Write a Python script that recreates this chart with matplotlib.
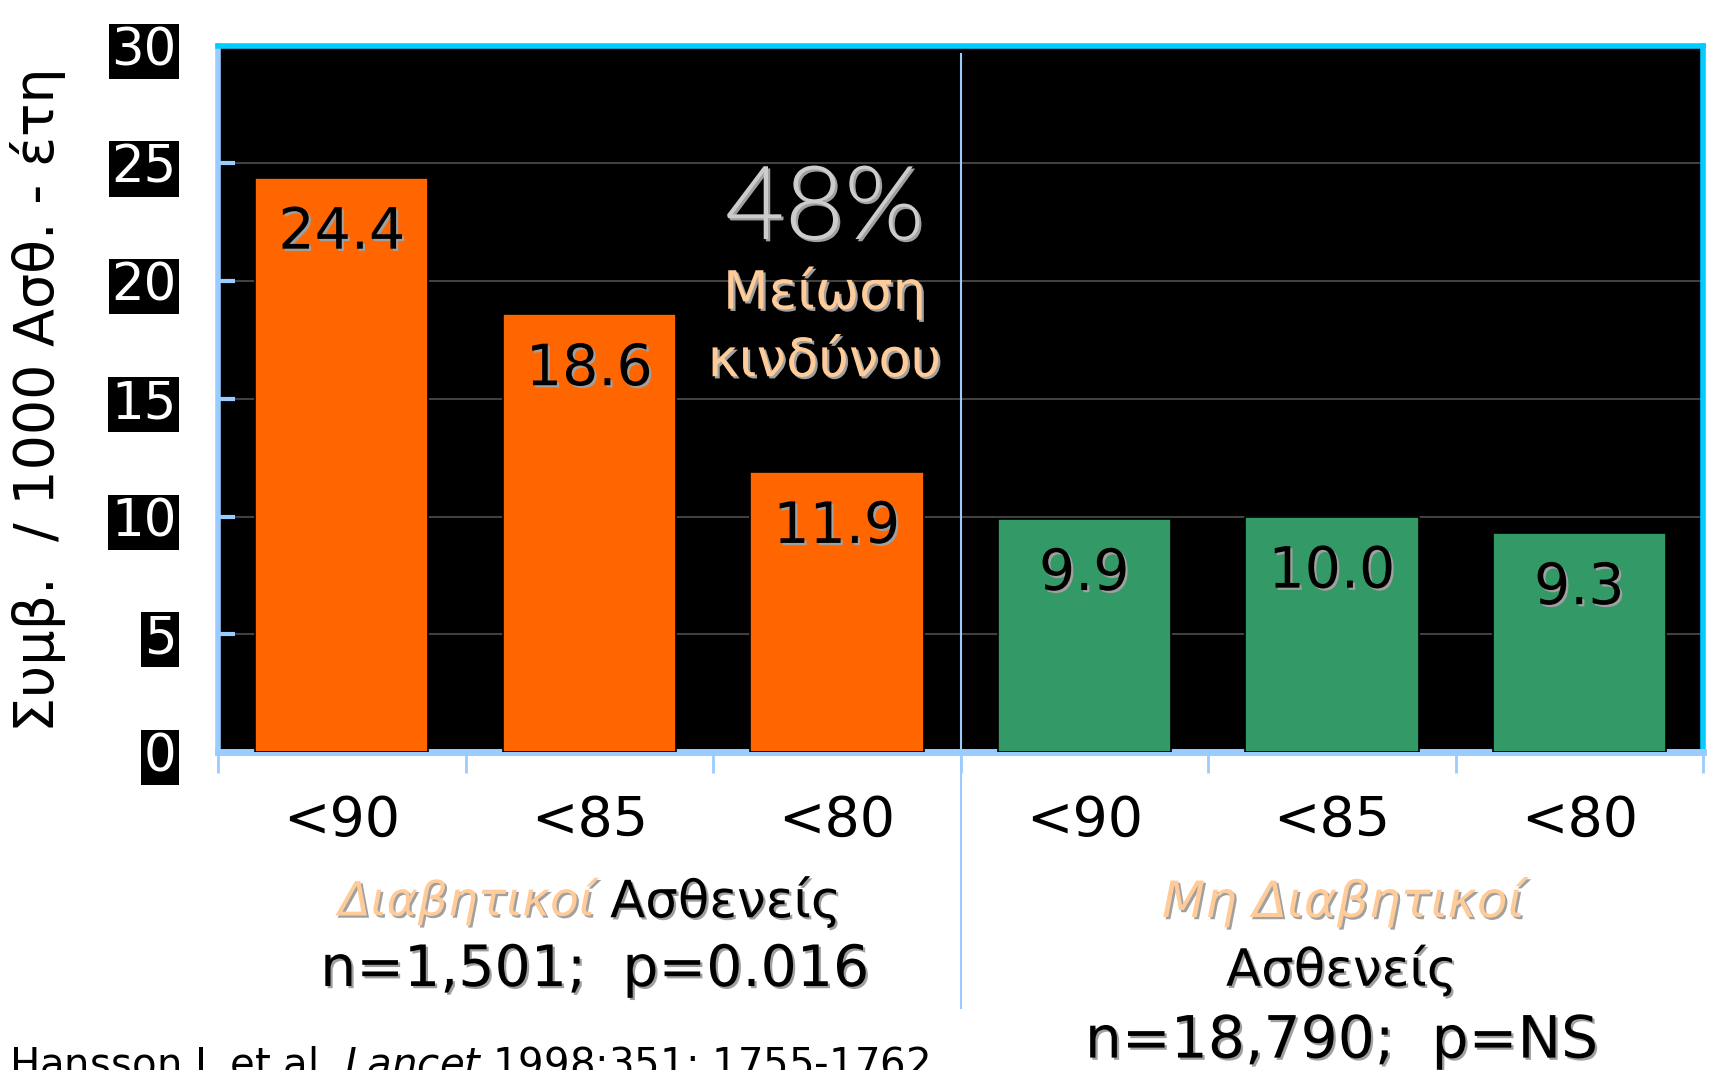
import matplotlib
matplotlib.use("Agg")
import matplotlib.pyplot as plt
import matplotlib.patheffects as pe
from matplotlib.transforms import blended_transform_factory

plt.rcParams['font.family'] = ['DejaVu Sans']

# event rates per 1000 patient-years by diastolic target
categories = ['<90', '<85', '<80', '<90', '<85', '<80']
diabetic = [24.4, 18.6, 11.9]
non_diabetic = [9.9, 10.0, 9.3]
values = diabetic + non_diabetic
value_labels = ['24.4', '18.6', '11.9', '9.9', '10.0', '9.3']
yticks = [0, 5, 10, 15, 20, 25, 30]

ORANGE = '#ff6600'
GREEN = '#339966'
PEACH = '#ffcc99'
LIGHTBLUE = '#99ccff'
CYAN = '#00ccff'

shadow = [pe.withSimplePatchShadow(offset=(1.6, -1.6), shadow_rgbFace='#a0a0a0', alpha=1.0)]

fig = plt.figure(figsize=(17.09, 10.70), dpi=100)
ax = fig.add_axes([0.1276, 0.2972, 0.869, 0.660])
ax.set_facecolor('black')

xs = [i + 0.5 for i in range(len(values))]
colors = [ORANGE] * len(diabetic) + [GREEN] * len(non_diabetic)
ax.bar(xs, values, width=0.70, color=colors, edgecolor='black', linewidth=1.2, zorder=3)

for x, v, lab in zip(xs, values, value_labels):
    ax.annotate(lab, xy=(x, v), xytext=(0, -40), textcoords='offset points',
                ha='center', va='center', fontsize=41, color='black',
                path_effects=shadow, zorder=4)

ax.set_xlim(0, 6)
ax.set_ylim(0, 30)

# gridlines
ax.set_yticks(yticks)
ax.yaxis.grid(True, color='#404040', linewidth=1.5, zorder=1)
ax.set_axisbelow(True)
ax.tick_params(axis='y', direction='in', length=12, width=3, color=LIGHTBLUE,
               pad=30, labelsize=37, labelcolor='white')
for t in ax.get_yticklabels():
    t.set_bbox(dict(facecolor='black', edgecolor='none', pad=2))

# x ticks at group boundaries, labels at bar centres
ax.set_xticks(range(7))
ax.set_xticklabels([])
ax.tick_params(axis='x', which='major', direction='out', length=15, width=2, color=LIGHTBLUE)
ax.set_xticks(xs, minor=True)
ax.set_xticklabels(categories, minor=True)
ax.tick_params(axis='x', which='minor', length=0, pad=30, labelsize=40)

for side, col, lw in [('left', LIGHTBLUE, 4), ('bottom', LIGHTBLUE, 5),
                      ('top', CYAN, 4), ('right', CYAN, 4)]:
    ax.spines[side].set_color(col)
    ax.spines[side].set_linewidth(lw)

# divider between the two patient groups
trans = blended_transform_factory(ax.transData, ax.transAxes)
ax.plot([3, 3], [0.988, -0.363], transform=trans, color=LIGHTBLUE,
        linewidth=1.5, clip_on=False, zorder=5)

# risk reduction note (thin face for the percentage)
ax.text(2.45, 23.0, '48%', ha='center', va='center', fontsize=74,
        family=['Lato', 'DejaVu Sans'], fontweight=300,
        color='#cccccc', path_effects=shadow, zorder=4)
ax.text(2.45, 19.5, 'Μείωση', ha='center', va='center', fontsize=38,
        color=PEACH, path_effects=shadow, zorder=4)
ax.text(2.45, 16.6, 'κινδύνου', ha='center', va='center', fontsize=38,
        color=PEACH, path_effects=shadow, zorder=4)

fig.text(0.022, 0.626, 'Συμβ.  / 1000 Ασθ. - έτη', rotation=90, ha='center',
         va='center', fontsize=40)

# group captions
fig.text(0.357, 0.157, 'Διαβητικοί ', ha='right', va='center', fontsize=34,
         style='italic', color=PEACH, path_effects=shadow)
fig.text(0.357, 0.157, 'Ασθενείς', ha='left', va='center', fontsize=37,
         path_effects=shadow)
fig.text(0.348, 0.093, 'n=1,501;  p=0.016', ha='center', va='center', fontsize=41,
         path_effects=shadow)

fig.text(0.786, 0.157, 'Μη Διαβητικοί', ha='center', va='center', fontsize=36,
         style='italic', color=PEACH, path_effects=shadow)
fig.text(0.785, 0.093, 'Ασθενείς', ha='center', va='center', fontsize=37,
         path_effects=shadow)
fig.text(0.785, 0.027, 'n=18,790;  p=NS', ha='center', va='center', fontsize=42,
         path_effects=shadow)

fig.text(0.005, 0.022, 'Hansson L et al. $\\it{Lancet}$ 1998;351: 1755-1762',
         ha='left', va='top', fontsize=29)

fig.savefig('out.png', dpi=100)
